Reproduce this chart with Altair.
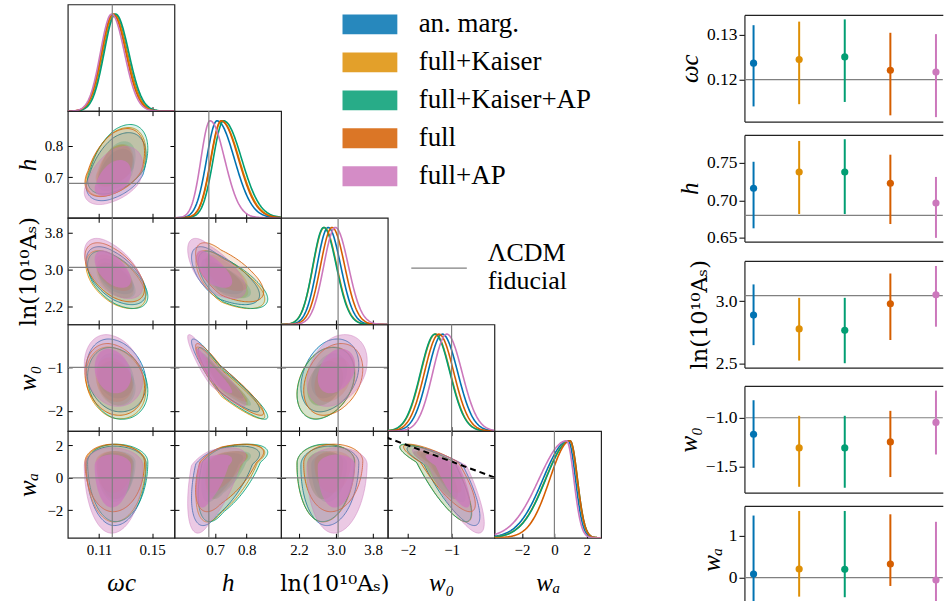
import numpy as np
import pandas as pd
import altair as alt

SERIF = "Liberation Serif"

SERIES = ["an. marg.", "full+Kaiser", "full+Kaiser+AP", "full", "full+AP"]
COLORS = ["#0173b2", "#de8f05", "#029e73", "#d55e00", "#cc78bc"]

PARAM_TITLES = ["ωc", "h", "ln(10¹⁰Aₛ)", "w₀", "wₐ"]
TITLE_STYLE = ["italic", "italic", "normal", "italic", "italic"]
TITLE_FONT = [SERIF, SERIF, "DejaVu Serif", SERIF, SERIF]
TITLE_SIZE = [25, 25, 22.5, 25, 25]
FIDUCIAL = [0.12, 0.68, 3.044, -1.0, 0.0]

# corner plot axes
CORNER_MIN = [0.0865, 0.571, 1.815, -2.46, -3.70]
CORNER_MAX = [0.1668, 0.909, 4.115, -0.02, 2.88]
CORNER_TICKS = [[0.11, 0.15], [0.7, 0.8], [2.2, 3.0, 3.8], [-2, -1], [-2, 0, 2]]
CORNER_FORMAT = [".2f", ".1f", ".1f", "d", "d"]

# posterior summaries: peak, lower width, upper width
PEAK_OMC = [0.1215, 0.1212, 0.1225, 0.1205, 0.1195]
LOW_OMC = [0.0086, 0.0086, 0.0086, 0.0086, 0.0084]
HIGH_OMC = [0.0098, 0.0098, 0.0099, 0.0097, 0.0096]
PEAK_H = [0.706, 0.720, 0.727, 0.719, 0.684]
LOW_H = [0.033, 0.033, 0.033, 0.033, 0.029]
HIGH_H = [0.055, 0.056, 0.057, 0.055, 0.046]
PEAK_LNAS = [2.830, 2.745, 2.735, 2.915, 2.985]
LOW_LNAS = [0.24, 0.24, 0.235, 0.25, 0.25]
HIGH_LNAS = [0.27, 0.27, 0.27, 0.27, 0.28]
PEAK_W0 = [-1.21, -1.37, -1.38, -1.29, -1.11]
LOW_W0 = [0.33, 0.33, 0.33, 0.33, 0.32]
HIGH_W0 = [0.35, 0.34, 0.34, 0.34, 0.35]
PEAK_WA = [0.85, 0.95, 0.97, 0.97, 0.75]
LOW_WA = [1.55, 1.50, 1.50, 1.25, 1.70]
HIGH_WA = [0.45, 0.45, 0.45, 0.45, 0.45]

# correlations (row parameter vs. earlier column parameters)
CORR_H = [0.45]
CORR_LNAS = [-0.55, -0.65]
CORR_W0 = [-0.20, -0.93, 0.30]
CORR_WA = [0.00, 0.55, 0.05, -0.85]

CONTOUR_RADII = [2.45, 1.52]   # 95% and 68% 2D levels
OUTER_FILL = [0.14, 0.14, 0.14, 0.14, 0.40]
INNER_FILL = [0.20, 0.20, 0.20, 0.20, 0.75]
OUTLINE_OPACITY = [0.95, 0.95, 0.95, 0.95, 0.5]
DASH_W0 = [-2.5, 0.0]
DASH_WA = [2.5, 0.0]

# right-hand summary panels
RIGHT_MIN = [0.1106, 0.645, 2.47, -1.77, -0.84]
RIGHT_MAX = [0.1345, 0.787, 3.32, -0.673, 1.72]
RIGHT_TICKS = [[0.12, 0.13], [0.65, 0.70, 0.75], [2.5, 3.0], [-1.5, -1.0], [0, 1]]
RIGHT_FORMAT = [".2f", ".2f", ".1f", ".1f", "d"]
MEAN_OMC = [0.1237, 0.1245, 0.1251, 0.1221, 0.1217]
LO_OMC = [0.1140, 0.1145, 0.1150, 0.1120, 0.1116]
HI_OMC = [0.1322, 0.1330, 0.1335, 0.1305, 0.1302]
MEAN_H = [0.716, 0.7377, 0.7377, 0.7227, 0.6964]
LO_H = [0.6627, 0.6817, 0.6817, 0.6684, 0.650]
HI_H = [0.7513, 0.779, 0.7813, 0.7607, 0.7311]
MEAN_LNAS = [2.889, 2.778, 2.767, 2.979, 3.05]
LO_LNAS = [2.649, 2.526, 2.505, 2.69, 2.796]
HI_LNAS = [3.133, 3.026, 3.026, 3.22, 3.28]
MEAN_W0 = [-1.170, -1.31, -1.31, -1.249, -1.048]
LO_W0 = [-1.514, -1.71, -1.72, -1.61, -1.378]
HI_W0 = [-0.82, -0.98, -0.98, -0.929, -0.721]
MEAN_WA = [0.087, 0.207, 0.2, 0.327, -0.057]
LO_WA = [-0.57, -0.456, -0.47, -0.2, -0.736]
HI_WA = [1.49, 1.6, 1.6, 1.52, 1.34]

PEAK = [PEAK_OMC, PEAK_H, PEAK_LNAS, PEAK_W0, PEAK_WA]
LOW = [LOW_OMC, LOW_H, LOW_LNAS, LOW_W0, LOW_WA]
HIGH = [HIGH_OMC, HIGH_H, HIGH_LNAS, HIGH_W0, HIGH_WA]
CORR = [[], CORR_H, CORR_LNAS, CORR_W0, CORR_WA]
R_MEAN = [MEAN_OMC, MEAN_H, MEAN_LNAS, MEAN_W0, MEAN_WA]
R_LO = [LO_OMC, LO_H, LO_LNAS, LO_W0, LO_WA]
R_HI = [HI_OMC, HI_H, HI_LNAS, HI_W0, HI_WA]

CELL = 107
TL = 4.5
FRAME = "#222222"
GRAY = "#808080"
RW = 199
COLOR_SCALE = alt.Scale(domain=SERIES, range=COLORS)
NOSTROKE = alt.ViewBackground(stroke="transparent")


def split_map(z, peak, lo, hi):
    return np.where(z < 0, peak + z * lo, peak + z * hi)


def cscale(p):
    return alt.Scale(domain=[CORNER_MIN[p], CORNER_MAX[p]], nice=False, zero=False)


def title_kw(p):
    return dict(title=PARAM_TITLES[p], titleFont=TITLE_FONT[p], titleFontSize=TITLE_SIZE[p],
                titleFontStyle=TITLE_STYLE[p], titleFontWeight="normal",
                titleColor="black")


def corner_axis(p, orient, show_labels=False, show_title=False):
    kw = dict(orient=orient, values=CORNER_TICKS[p], format=CORNER_FORMAT[p],
              offset=-TL, tickSize=TL, tickColor="black", tickWidth=1,
              domain=False, grid=False, labels=show_labels, labelFont=SERIF,
              labelFontSize=15, labelColor="black", labelPadding=5,
              labelFlush=False, labelOverlap=False)
    if show_title:
        kw.update(title_kw(p))
        if orient == "bottom":
            kw.update(titleBaseline="alphabetic", titleY=57.5)
        else:
            kw.update(titleBaseline="alphabetic", titleX=-37, titleAngle=270)
    else:
        kw["title"] = None
    return alt.Axis(**kw)


def diag_panel(p):
    xs = np.linspace(CORNER_MIN[p], CORNER_MAX[p], 170)
    frames = []
    for k, s in enumerate(SERIES):
        pk = PEAK[p][k]
        z = np.where(xs < pk, (xs - pk) / LOW[p][k], (xs - pk) / HIGH[p][k])
        frames.append(pd.DataFrame({"x": xs, "d": np.exp(-0.5 * z * z), "series": s}))
    df = pd.concat(frames, ignore_index=True)
    curves = alt.Chart(df).mark_line(strokeWidth=1.6, clip=True).encode(
        x=alt.X("x:Q", scale=cscale(p), axis=corner_axis(p, "bottom", p == 4, p == 4)),
        y=alt.Y("d:Q", scale=alt.Scale(domain=[0, 1.1], nice=False, zero=False), axis=None),
        color=alt.Color("series:N", scale=COLOR_SCALE, legend=None),
    )
    fid = alt.Chart(pd.DataFrame({"v": [FIDUCIAL[p]]})).mark_rule(
        color=GRAY, strokeWidth=1.2).encode(x=alt.X("v:Q", scale=cscale(p), axis=None))
    return alt.layer(curves, fid).resolve_axis(x="independent", y="independent").properties(
        width=CELL, height=CELL)


def pair_panel(i, j):
    rho = CORR[i][j]
    layers = []
    theta = np.linspace(0, np.pi, 80)
    for k, s in enumerate(SERIES):
        for lev, r in enumerate(CONTOUR_RADII):
            u = -r * np.cos(theta)
            half = np.sqrt(np.maximum(r * r - u * u, 0.0))
            zy1 = rho * u + np.sqrt(1 - rho ** 2) * half
            zy2 = rho * u - np.sqrt(1 - rho ** 2) * half
            df = pd.DataFrame({
                "x": split_map(u, PEAK[j][k], LOW[j][k], HIGH[j][k]),
                "y": split_map(zy1, PEAK[i][k], LOW[i][k], HIGH[i][k]),
                "y2": split_map(zy2, PEAK[i][k], LOW[i][k], HIGH[i][k]),
            })
            if lev == 0:
                mk = alt.Chart(df).mark_area(clip=True, color=COLORS[k], fillOpacity=OUTER_FILL[k],
                                             stroke=COLORS[k], strokeWidth=0.9,
                                             strokeOpacity=OUTLINE_OPACITY[k])
            else:
                mk = alt.Chart(df).mark_area(clip=True, color=COLORS[k], fillOpacity=INNER_FILL[k],
                                             strokeWidth=0)
            layers.append(mk.encode(
                x=alt.X("x:Q", scale=cscale(j), axis=None),
                y=alt.Y("y:Q", scale=cscale(i), axis=None),
                y2="y2:Q"))
    if (i, j) == (4, 3):
        dd = pd.DataFrame({"x": DASH_W0, "y": DASH_WA})
        layers.append(alt.Chart(dd).mark_line(color="black", strokeDash=[6, 4], strokeWidth=2,
                                              clip=True).encode(
            x=alt.X("x:Q", scale=cscale(j), axis=None),
            y=alt.Y("y:Q", scale=cscale(i), axis=None)))
    fdf = pd.DataFrame({"fx": [FIDUCIAL[j]], "fy": [FIDUCIAL[i]]})
    layers.append(alt.Chart(fdf).mark_rule(color=GRAY, strokeWidth=1.2).encode(
        x=alt.X("fx:Q", scale=cscale(j), axis=corner_axis(j, "bottom", i == 4, i == 4))))
    layers.append(alt.Chart(fdf).mark_rule(color=GRAY, strokeWidth=1.2).encode(
        y=alt.Y("fy:Q", scale=cscale(i), axis=corner_axis(i, "left", j == 0, j == 0))))
    layers.append(alt.Chart(fdf).mark_point(size=0, opacity=0).encode(
        x=alt.X("fx:Q", scale=cscale(j), axis=corner_axis(j, "top")),
        y=alt.Y("fy:Q", scale=cscale(i), axis=corner_axis(i, "right"))))
    return alt.layer(*layers).resolve_axis(x="independent", y="independent").properties(
        width=CELL, height=CELL)


def empty_cell(h=CELL, w=CELL):
    return alt.Chart(pd.DataFrame({"a": [0]})).mark_point(size=0, opacity=0).encode(
        x=alt.X("a:Q", axis=None), y=alt.Y("a:Q", axis=None)).properties(
        width=w, height=h, view=NOSTROKE)


def legend_cell():
    sx = alt.Scale(domain=[0, CELL], nice=False, zero=False)
    sy = alt.Scale(domain=[CELL, 0], nice=False, zero=False)
    yc = [20 + 38.1 * k for k in range(len(SERIES))]
    ldf = pd.DataFrame({"label": SERIES, "yc": yc,
                        "y0": [v - 10 for v in yc], "y1": [v + 10 for v in yc],
                        "x0": [61.6] * 5, "x1": [116.6] * 5, "tx": [138.0] * 5})
    rects = alt.Chart(ldf).mark_rect(opacity=0.85).encode(
        x=alt.X("x0:Q", scale=sx, axis=None), x2="x1:Q",
        y=alt.Y("y0:Q", scale=sy, axis=None), y2="y1:Q",
        color=alt.Color("label:N", scale=COLOR_SCALE, legend=None))
    texts = alt.Chart(ldf).mark_text(align="left", baseline="middle", font=SERIF,
                                     fontSize=27, color="black").encode(
        x=alt.X("tx:Q", scale=sx, axis=None), y=alt.Y("yc:Q", scale=sy, axis=None),
        text="label:N")
    fl = pd.DataFrame({"x0": [130.6], "x1": [186.3], "y": [264.4]})
    fline = alt.Chart(fl).mark_rule(color=GRAY, strokeWidth=1.3).encode(
        x=alt.X("x0:Q", scale=sx, axis=None), x2="x1:Q",
        y=alt.Y("y:Q", scale=sy, axis=None))
    ft = pd.DataFrame({"t": ["ΛCDM", "fiducial"], "x": [207.3, 207.3], "y": [249.5, 277.5]})
    ftext = alt.Chart(ft).mark_text(align="left", baseline="middle", font=SERIF,
                                    fontSize=26, color="black").encode(
        x=alt.X("x:Q", scale=sx, axis=None), y=alt.Y("y:Q", scale=sy, axis=None), text="t:N")
    return alt.layer(rects, texts, fline, ftext).properties(width=CELL, height=CELL, view=NOSTROKE)


def right_panel(p):
    df = pd.DataFrame({"i": list(range(5)), "series": SERIES, "m": R_MEAN[p],
                       "lo": R_LO[p], "hi": R_HI[p]})
    xs = alt.Scale(domain=[-0.2, 4.15], nice=False, zero=False)
    ys = alt.Scale(domain=[RIGHT_MIN[p], RIGHT_MAX[p]], nice=False, zero=False)
    yax = alt.Axis(orient="left", values=RIGHT_TICKS[p], format=RIGHT_FORMAT[p], tickSize=5.5,
                   tickColor="black", domain=True, domainColor=FRAME, domainWidth=1.2,
                   grid=False, labelFont=SERIF, labelFontSize=17.5, labelColor="black",
                   labelPadding=2, titlePadding=4, **title_kw(p))
    xbot = alt.Axis(orient="bottom", ticks=False, labels=False, domain=True, domainColor=FRAME,
                    domainWidth=1.2, grid=False, title=None)
    xtop = alt.Axis(orient="top", ticks=False, labels=False, domain=True, domainColor=FRAME,
                    domainWidth=1.2, grid=False, title=None)
    fid = alt.Chart(pd.DataFrame({"v": [FIDUCIAL[p]]})).mark_rule(
        color=GRAY, strokeWidth=1.2).encode(y=alt.Y("v:Q", scale=ys, axis=yax))
    bars = alt.Chart(df).mark_rule(strokeWidth=2).encode(
        x=alt.X("i:Q", scale=xs, axis=xbot), y=alt.Y("lo:Q", scale=ys, axis=None), y2="hi:Q",
        color=alt.Color("series:N", scale=COLOR_SCALE, legend=None))
    pts = alt.Chart(df).mark_circle(size=52, opacity=1).encode(
        x=alt.X("i:Q", scale=xs, axis=None), y=alt.Y("m:Q", scale=ys, axis=None),
        color=alt.Color("series:N", scale=COLOR_SCALE, legend=None))
    top = alt.Chart(df).mark_point(size=0, opacity=0).encode(
        x=alt.X("i:Q", scale=xs, axis=xtop), y=alt.Y("m:Q", scale=ys, axis=None))
    return alt.layer(fid, bars, pts, top).resolve_axis(x="independent", y="independent").properties(
        width=RW, height=CELL, view=NOSTROKE)


cells = []
for i in range(5):
    for j in range(5):
        if j > i:
            cells.append(legend_cell() if (i, j) == (0, 2) else empty_cell())
        elif j == i:
            cells.append(diag_panel(i))
        else:
            cells.append(pair_panel(i, j))

corner = alt.concat(*cells, columns=5, spacing=0, bounds="flush")
panels = alt.vconcat(*[right_panel(p) for p in range(5)], spacing=11.4)
right = alt.vconcat(empty_cell(h=0.2, w=RW), panels, spacing=8.5)

chart = alt.hconcat(corner, right, spacing=73.8).properties(
    padding={"left": 14, "top": 1.5, "right": 0, "bottom": 0}
).configure(font=SERIF, background="white").configure_view(stroke=FRAME, strokeWidth=1.2)

chart.save("out.html", embed_options={"renderer": "svg", "actions": False})
